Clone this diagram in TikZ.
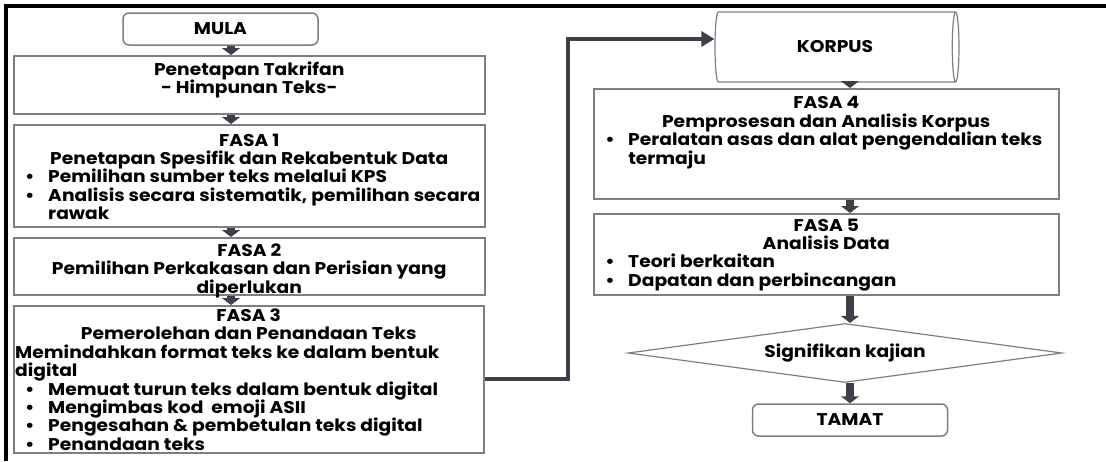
\documentclass[tikz,border=0pt]{standalone}
\usepackage{fontspec}
\setmainfont{Poppins}[FakeStretch=1.10]
\usepackage{tikz}
\usetikzlibrary{arrows.meta,positioning,shapes.geometric,calc}

\definecolor{boxgray}{HTML}{7F7F7F}
\definecolor{arrowgray}{HTML}{3C4049}

% bullet line with hanging indent
\newcommand{\itm}[1]{\par\noindent\hangindent=33pt\hangafter=1%
  \makebox[33pt][l]{\hspace{10pt}\textbullet}#1}
% top-aligned box text: height, width, padding, content
\newcommand{\boxtext}[4]{\parbox[c][#1][t]{#2}{\raggedright\vspace*{#3}#4}}

\begin{document}
\begin{tikzpicture}[x=1pt,y=-1pt,
  font=\bfseries\fontsize{17}{18.4}\selectfont,
  phase/.style={draw=boxgray,line width=1.5pt,inner xsep=1.5pt,inner ysep=0pt,anchor=north west},
  endbox/.style={draw=boxgray,line width=1.5pt,rounded corners=6pt,minimum width=195pt,minimum height=32pt,inner sep=0pt},
  flow/.style={draw=arrowgray,line width=8pt,-{Triangle[length=7pt,width=18pt]}},
  link/.style={draw=arrowgray,line width=4pt,-{Triangle[length=13pt,width=15pt]}}]
\useasboundingbox (0,0) rectangle (1106,461);

% frame
\draw[line width=3.5pt] (1106,6) -- (6,6) -- (6,461);

% left column
\node[endbox] (mula) at (220.5,29) {MULA};
\node[phase] (takrif) at (13,55) {\boxtext{58pt}{468pt}{6pt}{\centering
  Penetapan Takrifan\\- Himpunan Teks-\par}};
\node[phase] (fasa1) at (13,124) {\boxtext{102pt}{468pt}{9pt}{{\centering
  FASA 1\\Penetapan Spesifik dan Rekabentuk Data\par}
  \itm{Pemilihan sumber teks melalui KPS}
  \itm{Analisis secara sistematik, pemilihan secara\newline rawak}}};
\node[phase] (fasa2) at (13,237) {\boxtext{57pt}{468pt}{6pt}{\centering
  FASA 2\\Pemilihan Perkakasan dan Perisian yang\\diperlukan\par}};
\node[phase] (fasa3) at (13,305) {\boxtext{147pt}{467pt}{3pt}{{\centering
  FASA 3\\Pemerolehan dan Penandaan Teks\par}
  \noindent Memindahkan format teks ke dalam bentuk\newline digital
  \itm{Memuat turun teks dalam bentuk digital}
  \itm{Mengimbas kod\ \ emoji ASII}
  \itm{Pengesahan \& pembetulan teks digital}
  \itm{Penandaan teks}}};

% right column
\node[draw=boxgray,line width=1.2pt,cylinder,aspect=0.55,minimum width=70pt,minimum height=244pt,inner sep=0pt] (korpus) at (835,47) {KORPUS};
\node[phase] (fasa4) at (593,88) {\boxtext{110pt}{462pt}{8pt}{{\centering
  FASA 4\\Pemprosesan dan Analisis Korpus\par}
  \itm{Peralatan asas dan alat pengendalian teks\newline termaju}}};
\node[phase] (fasa5) at (593,213) {\boxtext{81pt}{462pt}{5pt}{{\centering
  FASA 5\\Analisis Data\par}
  \itm{Teori berkaitan}
  \itm{Dapatan dan perbincangan}}};
\node[draw=boxgray,line width=1.2pt,diamond,aspect=7.3,minimum width=434pt,minimum height=59pt,inner sep=0pt] (signif) at (845,353) {Signifikan kajian};
\node[endbox] (tamat) at (850,420) {TAMAT};

% block arrows
\coordinate (lx) at (231,0);
\coordinate (rx) at (850,0);
\draw[flow] (lx |- mula.south) -- (lx |- takrif.north);
\draw[flow] (lx |- takrif.south) -- (lx |- fasa1.north);
\draw[flow] (lx |- fasa1.south) -- (lx |- fasa2.north);
\draw[flow] (lx |- fasa2.south) -- (lx |- fasa3.north);
\draw[flow] (rx |- korpus.south) -- (rx |- fasa4.north);
\draw[flow] (rx |- fasa4.south) -- (rx |- fasa5.north);
\draw[flow] (rx |- fasa5.south) -- (rx |- signif.north);
\draw[flow] (rx |- signif.south) -- (rx |- tamat.north);

% link to corpus
\coordinate (bend) at (568,39);
\draw[link] (fasa3.east) -| (bend) -- (korpus.west |- bend);
\end{tikzpicture}
\end{document}
